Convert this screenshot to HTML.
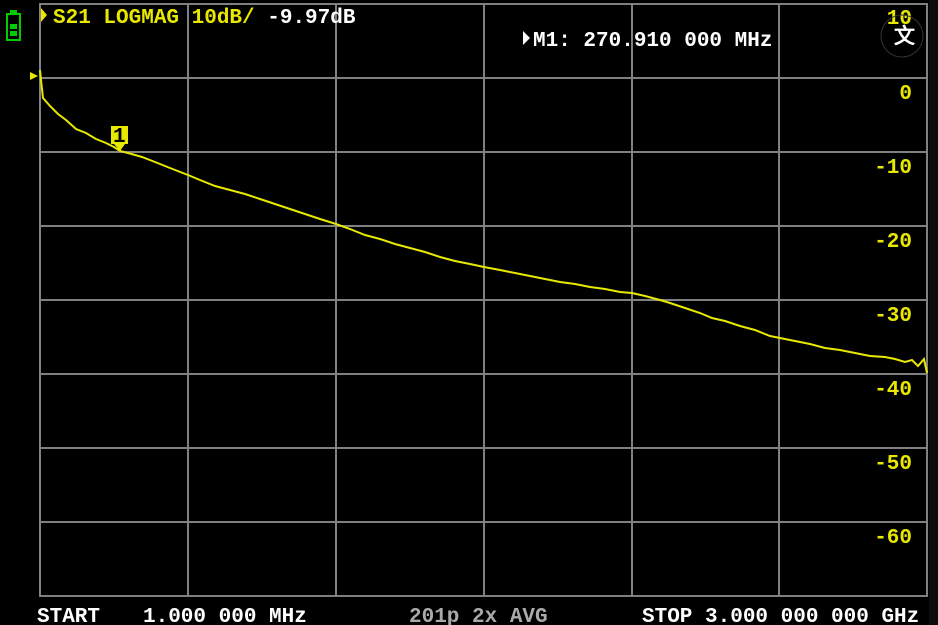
<!DOCTYPE html>
<html><head><meta charset="utf-8"><style>
html,body{margin:0;padding:0;background:#000;width:938px;height:625px;overflow:hidden}
svg{display:block}
text{font-family:"Liberation Mono",monospace;font-weight:bold;font-size:21px}
</style></head><body>
<svg width="938" height="625" viewBox="0 0 938 625">
<rect width="938" height="625" fill="#000"/>
<rect x="929" y="0" width="9" height="625" fill="#0c0c0c"/>
<g stroke="#808080" stroke-width="2" fill="none">
<rect x="40" y="4" width="887" height="592"/>
<line x1="188" y1="4" x2="188" y2="596"/><line x1="336" y1="4" x2="336" y2="596"/>
<line x1="484" y1="4" x2="484" y2="596"/><line x1="632" y1="4" x2="632" y2="596"/>
<line x1="779" y1="4" x2="779" y2="596"/>
<line x1="40" y1="78" x2="927" y2="78"/><line x1="40" y1="152" x2="927" y2="152"/>
<line x1="40" y1="226" x2="927" y2="226"/><line x1="40" y1="300" x2="927" y2="300"/>
<line x1="40" y1="374" x2="927" y2="374"/><line x1="40" y1="448" x2="927" y2="448"/>
<line x1="40" y1="522" x2="927" y2="522"/>
</g>
<rect x="7" y="14" width="13" height="26" fill="none" stroke="#0c0" stroke-width="2"/>
<rect x="10" y="10" width="7" height="4" fill="#0c0"/>
<rect x="10" y="24" width="7" height="5" fill="#0c0"/><rect x="10" y="31" width="7" height="5" fill="#0c0"/>
<polyline fill="none" stroke="#e8e800" stroke-width="2" points="40,70 41,80 43,98 50,106 58,114 66,120 76,129 86,133 96,139 106,143 114,147 120,151 128,153 142,157 155,162 170,168 188,175 200,180 215,186 230,190 245,194 260,199 275,204 290,209 305,214 320,219 336,224 350,229 365,235 380,239 395,244 410,248 425,252 440,257 455,261 470,264 484,267 500,270 515,273 530,276 545,279 560,282 575,284 590,287 605,289 620,292 632,293 645,296 660,300 670,303 685,308 700,313 712,318 725,321 740,326 755,330 770,336 780,338 795,341 810,344 825,348 840,350 855,353 870,356 885,357 895,359 905,362 912,360 918,366 924,359 927,373"/>
<polygon points="30,72 38,76 30,80" fill="#e8e800"/>
<rect x="111" y="126" width="17" height="18" fill="#e8e800"/>
<polygon points="114,144 125,144 120,151" fill="#e8e800"/>
<text x="113" y="142" fill="#000" font-size="16">1</text>
<polygon points="41,8 47,15 41,22" fill="#e8e800"/>
<text x="53" y="23" fill="#e8e800">S21 LOGMAG 10dB/ <tspan fill="#fff">-9.97dB</tspan></text>
<polygon points="523,31 530,38 523,45" fill="#fff"/>
<text x="533" y="46" fill="#fff">M1: 270.910 000 MHz</text>
<g fill="#e8e800" text-anchor="end">
<text x="912" y="24">10</text><text x="912" y="99">0</text>
<text x="912" y="173">-10</text><text x="912" y="247">-20</text>
<text x="912" y="321">-30</text><text x="912" y="395">-40</text>
<text x="912" y="469">-50</text><text x="912" y="543">-60</text>
</g>
<text x="37" y="622" fill="#fff">START</text>
<text x="143" y="622" fill="#fff">1.000 000 MHz</text>
<text x="409" y="622" fill="#aaa">201p 2x AVG</text>
<text x="642" y="622" fill="#fff">STOP 3.000 000 000 GHz</text>
<circle cx="902" cy="36" r="21" fill="none" stroke="#333"/>
<text x="894" y="43" fill="#fff" font-size="15">文</text>
</svg>
</body></html>
